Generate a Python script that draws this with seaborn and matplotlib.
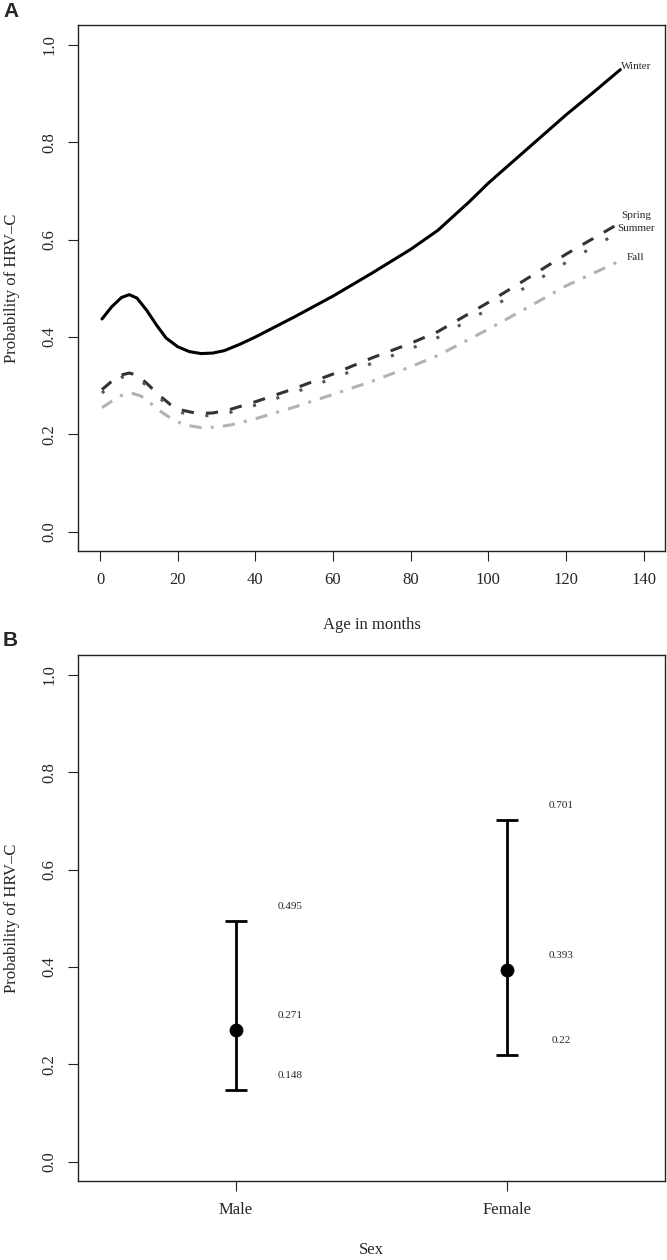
import numpy as np
import pandas as pd
import matplotlib
matplotlib.use("Agg")
import matplotlib.pyplot as plt
import seaborn as sns

# panel A: probability of HRV-C by age, one curve per season
winter_age = [0.5, 3, 5.5, 7.5, 9.5, 12, 14.5, 17, 20, 23, 26, 29, 32, 36, 40,
              50, 60, 70, 80, 87, 95, 100, 110, 120, 127, 134]
winter_prob = [0.437, 0.462, 0.481, 0.487, 0.480, 0.455, 0.425, 0.398, 0.380,
               0.370, 0.366, 0.367, 0.372, 0.385, 0.400, 0.441, 0.484, 0.531,
               0.580, 0.619, 0.677, 0.716, 0.786, 0.856, 0.902, 0.949]

season_age = [0.5, 3, 5.5, 7.5, 9.5, 12, 15, 18, 21, 25, 29, 33, 40,
              50, 60, 70, 80, 87, 100, 110, 120, 133]
spring_prob = [0.292, 0.309, 0.322, 0.326, 0.322, 0.305, 0.282, 0.262, 0.250,
               0.243, 0.244, 0.250, 0.267, 0.294, 0.324, 0.357, 0.387, 0.411,
               0.471, 0.520, 0.570, 0.630]
summer_prob = [0.285, 0.303, 0.317, 0.321, 0.317, 0.300, 0.277, 0.257, 0.245,
               0.238, 0.239, 0.244, 0.260, 0.286, 0.315, 0.346, 0.376, 0.399,
               0.457, 0.504, 0.553, 0.612]

fall_age = [0.5, 3, 5.5, 8, 10.5, 13, 16, 19, 22, 26, 30, 34, 40,
            50, 60, 70, 80, 87, 100, 110, 120, 133]
fall_prob = [0.255, 0.268, 0.280, 0.285, 0.279, 0.264, 0.245, 0.229, 0.219,
             0.214, 0.215, 0.220, 0.232, 0.256, 0.282, 0.309, 0.339, 0.362,
             0.416, 0.460, 0.505, 0.553]

seasons = ["Winter", "Spring", "Summer", "Fall"]

# panel B: estimate with 95% interval by sex
sexes = ["Male", "Female"]
estimate = [0.271, 0.393]
lower = [0.148, 0.22]
upper = [0.495, 0.701]

df = pd.concat([
    pd.DataFrame({"age": winter_age, "prob": winter_prob, "season": "Winter"}),
    pd.DataFrame({"age": season_age, "prob": spring_prob, "season": "Spring"}),
    pd.DataFrame({"age": season_age, "prob": summer_prob, "season": "Summer"}),
    pd.DataFrame({"age": fall_age, "prob": fall_prob, "season": "Fall"}),
], ignore_index=True)

colors = {"Winter": "#000000", "Spring": "#333333", "Summer": "#555555", "Fall": "#b3b3b3"}
dashes = {"Winter": "", "Spring": (4, 4), "Summer": (1, 7), "Fall": (4, 3, 1, 3)}
label_dy = {"Winter": 0.007, "Spring": 0.02, "Summer": 0.01, "Fall": 0.01}

sns.set_style("ticks")
plt.rcParams["font.family"] = ["Liberation Serif", "DejaVu Serif"]

W, H = 667, 1260
fig = plt.figure(figsize=(W / 100, H / 100), dpi=100)
axA = fig.add_axes([78.3 / W, 1 - 551.3 / H, 587.1 / W, 526 / H])
axB = fig.add_axes([78.3 / W, 1 - 1181.3 / H, 586.2 / W, 526 / H])

sns.lineplot(data=df, x="age", y="prob", hue="season", style="season",
             hue_order=seasons, style_order=seasons, palette=colors,
             dashes=dashes, lw=2.2, estimator=None, sort=False,
             legend=False, ax=axA)

for s in seasons:
    sub = df[df["season"] == s]
    axA.text(138, sub["prob"].iloc[-1] + label_dy[s], s, ha="center",
             va="center", fontsize=8)

axA.set_xlim(-5.6, 145.6)
axA.set_xticks(np.arange(0, 141, 20))
axA.set_xlabel("Age in months", fontsize=12)

pos = np.arange(1, len(sexes) + 1)
est = np.array(estimate)
axB.errorbar(pos, est, yerr=[est - np.array(lower), np.array(upper) - est],
             fmt="none", ecolor="black", elinewidth=2, capsize=8, capthick=2)
sns.scatterplot(x=pos, y=est, color="black", s=85, edgecolor="black",
                zorder=3, ax=axB)
for p, e, lo, hi in zip(pos, estimate, lower, upper):
    for v in (lo, e, hi):
        axB.text(p + 0.2, v + 0.03, f"{v:g}", ha="center", va="center", fontsize=8)

axB.set_xlim(0.42, 2.58)
axB.set_xticks(pos)
axB.set_xticklabels(sexes)
axB.set_xlabel("Sex", fontsize=12)

for ax in (axA, axB):
    ax.set_ylim(-0.04, 1.04)
    ax.set_yticks(np.arange(0, 1.01, 0.2))
    ax.set_yticklabels([f"{t:.1f}" for t in np.arange(0, 1.01, 0.2)],
                       rotation=90, va="center")
    ax.set_ylabel("Probability of HRV\u2013C", fontsize=12)
    ax.yaxis.set_label_coords(-0.099, 0.5)
    ax.tick_params(length=7.2, width=0.8, labelsize=12, pad=8, color="#222222")
    for sp in ax.spines.values():
        sp.set_visible(True)
        sp.set_linewidth(1.0)
        sp.set_color("#222222")

axA.xaxis.set_label_coords(0.5, -0.125)
axB.xaxis.set_label_coords(0.5, -0.115)

fig.text(3 / W, 1 - 2 / H, "A", ha="left", va="top", fontsize=15,
         fontweight="bold", family="Liberation Sans")
fig.text(3 / W, 1 - 631 / H, "B", ha="left", va="top", fontsize=15,
         fontweight="bold", family="Liberation Sans")

fig.savefig("out.png", dpi=100)
